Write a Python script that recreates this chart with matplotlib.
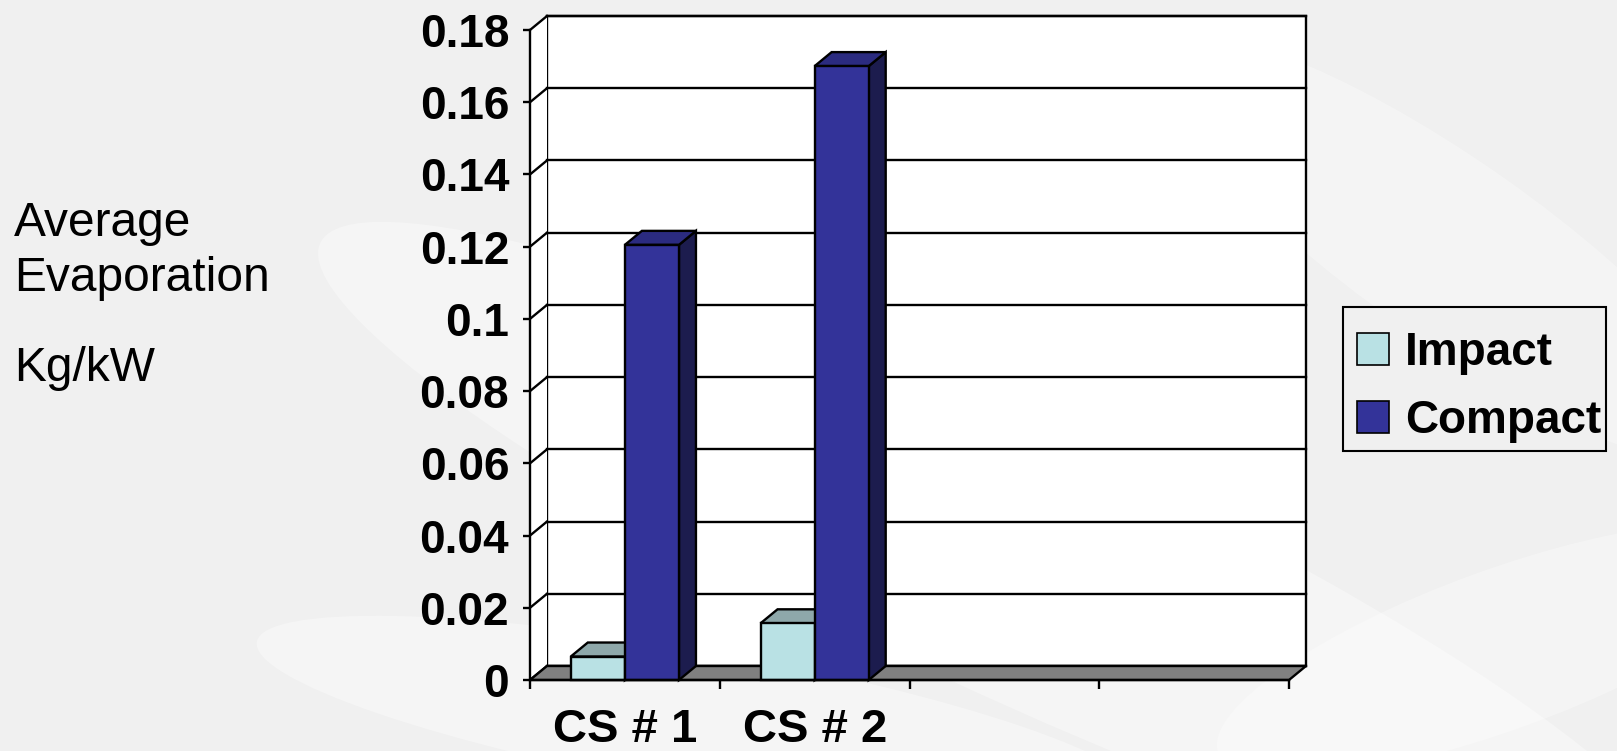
import matplotlib.pyplot as plt
from matplotlib.patches import Polygon, Rectangle, Patch, Ellipse

# data
categories = ['CS # 1', 'CS # 2', '', '']
impact = [0.0065, 0.0157]
compact = [0.1205, 0.170]
series_names = ['Impact', 'Compact']
yticks = [0, 0.02, 0.04, 0.06, 0.08, 0.1, 0.12, 0.14, 0.16, 0.18]

# colours (front, top, side)
impact_cols = ('#b9e1e4', '#8ea8aa', '#6f8c8e')
compact_cols = ('#333399', '#2b2b80', '#1c1c4e')
floor_col = '#808080'
bg_col = '#f0f0f0'

plt.rcParams['font.family'] = ['Liberation Sans', 'DejaVu Sans']

W, H = 1617, 751
fig = plt.figure(figsize=(W / 100, H / 100), dpi=100, facecolor=bg_col)

# soft background swooshes
bg = fig.add_axes([0, 0, 1, 1], zorder=-5)
bg.set_xlim(0, W)
bg.set_ylim(H, 0)
bg.axis('off')
for cx, cy, w, h, ang, a in [(1000, 560, 1500, 260, 25, 0.35), (1450, 250, 700, 180, 35, 0.3),
                              (700, 720, 900, 140, 10, 0.35), (1500, 650, 600, 160, -20, 0.3)]:
    bg.add_patch(Ellipse((cx, cy), w, h, angle=ang, color='white', alpha=a, lw=0))
# legend box
bg.add_patch(Rectangle((1343, 307), 263, 144, facecolor=bg_col, edgecolor='black', lw=1.5, zorder=3))

ax = fig.add_axes([530 / W, 71 / H, 759 / W, 650 / H], zorder=1)
ax.patch.set_alpha(0)
ncat = len(categories)
ymax = yticks[-1]
ax.set_xlim(0, ncat)
ax.set_ylim(0, ymax)

DX = 17 / (759 / ncat)    # depth offset, category units
DY = 14 / (650 / ymax)    # depth offset, value units
lw = 1.7

# walls
ax.add_patch(Rectangle((DX, DY), ncat, ymax, facecolor='white', edgecolor='black',
                       lw=lw, clip_on=False, zorder=0.5))
ax.add_patch(Polygon([(0, 0), (DX, DY), (DX, ymax + DY), (0, ymax)], closed=True,
                     facecolor='white', edgecolor='none', clip_on=False, zorder=0.5))
for v in yticks:
    ax.plot([DX, ncat + DX], [v + DY, v + DY], color='black', lw=lw, clip_on=False, zorder=1)
    ax.plot([0, DX], [v, v + DY], color='black', lw=lw, clip_on=False, zorder=1)

# floor
ax.add_patch(Polygon([(0, 0), (ncat, 0), (ncat + DX, DY), (DX, DY)], closed=True,
                     facecolor=floor_col, edgecolor='black', lw=lw, clip_on=False, zorder=1.5))


def bar3d(x0, width, v, cols):
    x1 = x0 + width
    front = Rectangle((x0, 0), width, v)
    top = Polygon([(x0, v), (x1, v), (x1 + DX, v + DY), (x0 + DX, v + DY)], closed=True)
    side = Polygon([(x1, 0), (x1 + DX, DY), (x1 + DX, v + DY), (x1, v)], closed=True)
    for p, c in zip((side, top, front), (cols[2], cols[1], cols[0])):
        p.set_facecolor(c)
        p.set_edgecolor('black')
        p.set_linewidth(lw)
        p.set_clip_on(False)
        p.set_zorder(2)
        ax.add_patch(p)


bw = 0.285
for i in range(len(impact)):
    bar3d(i + 0.5 - bw, bw, impact[i], impact_cols)
    bar3d(i + 0.5, bw, compact[i], compact_cols)

# axes
for s in ['top', 'right']:
    ax.spines[s].set_visible(False)
for s in ['left', 'bottom']:
    ax.spines[s].set_linewidth(lw)
    ax.spines[s].set_zorder(3)
ax.set_yticks(yticks, labels=[f'{v:g}' for v in yticks])
ax.set_xticks(range(ncat + 1), labels=[])
ax.set_xticks([i + 0.5 for i in range(ncat)], labels=categories, minor=True)
ax.tick_params(axis='y', direction='out', length=5, width=lw, pad=10, labelsize=33)
ax.tick_params(axis='x', which='major', direction='out', length=6.5, width=lw)
ax.tick_params(axis='x', which='minor', length=0, pad=20, labelsize=34)
for t in ax.get_yticklabels() + ax.get_xticklabels(minor=True):
    t.set_fontweight('bold')

# left title
fig.text(14 / W, 1 - 236 / H, 'Average', fontsize=34.5, va='baseline', ha='left')
fig.text(14 / W, 1 - 291 / H, 'Evaporation', fontsize=34.5, va='baseline', ha='left')
fig.text(14 / W, 1 - 381 / H, 'Kg/kW', fontsize=34.5, va='baseline', ha='left')

# legend
handles = [Patch(facecolor=impact_cols[0], edgecolor='black', lw=1.2),
           Patch(facecolor=compact_cols[0], edgecolor='black', lw=1.2)]
leg = fig.legend(handles, series_names, loc='upper left', bbox_to_anchor=(1357 / W, 1 - 331 / H),
                 borderaxespad=0, frameon=False,
                 prop={'weight': 'bold', 'size': 33}, handlelength=0.7, handleheight=0.7,
                 handletextpad=0.35, labelspacing=0.52, borderpad=0)

plt.savefig('out.png', dpi=100, facecolor=bg_col)
